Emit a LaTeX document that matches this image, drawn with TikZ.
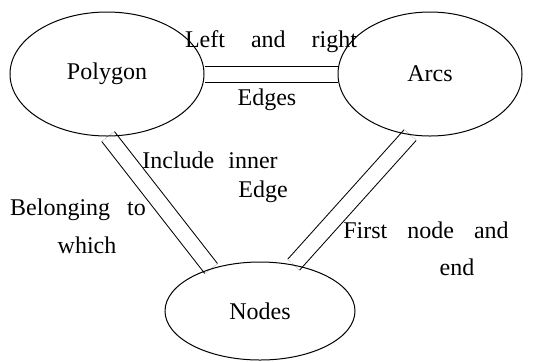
\documentclass[tikz,border=0pt]{standalone}
\usepackage{fontspec}
\setmainfont{Liberation Serif}
\usepackage{tikz}
\usetikzlibrary{shapes.geometric,positioning,backgrounds}

\begin{document}
\begin{tikzpicture}[node distance=4cm,on grid,font=\fontsize{12}{14}\selectfont]
        \tikzstyle{table}=[ellipse,draw,line width=0.5pt,inner sep=0pt]
        \tikzstyle{link}=[draw,double=white,line width=0.5pt,double distance=7.5pt]
        \useasboundingbox (-53.5pt,37pt) rectangle (219pt,-143.5pt);
        \node[table,minimum width=97pt,minimum height=62pt] (Pg) {Polygon};
        \node[table,minimum width=92pt,minimum height=62pt] (Ar) [right=161.5pt of Pg] {Arcs};
        \node[table,minimum width=95pt,minimum height=49pt] (Nd) [below right=118.5pt and 76.5pt of Pg] {Nodes};
        \begin{scope}[on background layer]
        \path
        (Pg) edge[link] (Ar)
        (Pg.-89) edge[link] (Nd.139)
        (Ar.-108) edge[link] (Nd.54);
        \end{scope}
        % labels
        \node (LR) at (82pt,16pt) {Left\hspace{13pt}and\hspace{13pt}right};
        \node (Ed) at (80pt,-13pt) {Edges};
        \node (In) at (51.5pt,-43pt) {Include\hspace{7pt}inner};
        \node (InE) at (78pt,-59pt) {Edge};
        \node (Be) at (-14.5pt,-68pt) {Belonging\hspace{8.5pt}to};
        \node (BeW) at (-10pt,-85.5pt) {which};
        \node (Fi) at (159.5pt,-78pt) {First\hspace{10pt}node\hspace{10pt}and};
        \node (FiE) at (175pt,-96.5pt) {end};
    \end{tikzpicture}
\end{document}
